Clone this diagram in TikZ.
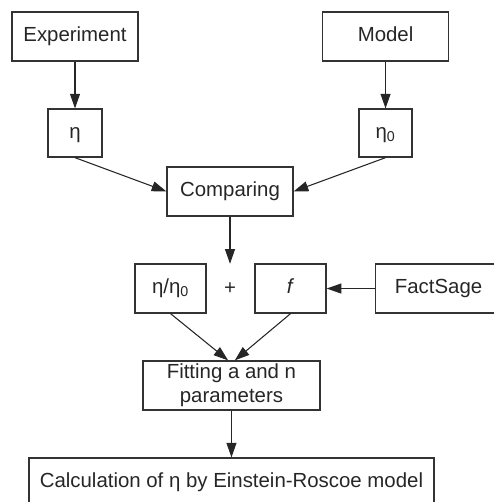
\documentclass[tikz,border=0pt]{standalone}
\usepackage{fontspec}
\setmainfont{Liberation Sans}
\usetikzlibrary{arrows.meta, positioning}

\begin{document}
\begin{tikzpicture}[x=1pt, y=1pt, node distance=72.4pt, >={Triangle[length=11pt,width=7.5pt]},
    box/.style={draw=black!80, line width=0.9pt, text=black!85, inner sep=0pt,
        minimum width=94.5pt, minimum height=36.75pt,
        text height=11pt, text depth=3.5pt,
        font=\fontsize{15.3pt}{18pt}\selectfont},
    small/.style={minimum width=53.25pt},
    link/.style={->, draw=black!85, line width=0.8pt}]

    \useasboundingbox (0,0) rectangle (369.75,-376.5);

    % Nodes
    \node[box] (Exp) at (56.25,-27.4) {Experiment};
    \node[box, minimum width=40.5pt, minimum height=36pt] (eta) [below of=Exp] {η};
    \node[box] (Model) [right of=Exp, node distance=232.9pt] {Model};
    \node[box, minimum width=39.75pt, minimum height=36pt] (eta0) [below of=Model] {η\textsubscript{0}};
    \node[box] (Cmp) at (172.5,-143.6) {Comparing};
    \node[minimum height=36.75pt, text=black!85, font=\fontsize{15.3pt}{18pt}\selectfont] (plus) [below of=Cmp, node distance=72.8pt] {+};
    \node[box, small] (ratio) [left of=plus, node distance=44.6pt] {η/η\textsubscript{0}};
    \node[box, small] (f) [right of=plus, node distance=45.4pt] {\textit{f}};
    \node[box] (FS) [right of=f, node distance=111pt] {FactSage};
    \node[box, minimum width=132.75pt, align=center, text height={}, text depth={}] (Fit) [below of=plus, node distance=72.7pt, xshift=1.1pt] {Fitting a and n\\parameters};
    \node[box, minimum width=303.75pt] (Calc) [below of=Fit, node distance=72.8pt] {Calculation of η by Einstein-Roscoe model};

    % Arrows
    \draw[link] (Exp) -- (eta);
    \draw[link] (Model) -- (eta0);
    \draw[link] (eta.south) -- (Cmp.west);
    \draw[link] (eta0.south) -- (Cmp.east);
    \draw[link] (Cmp) -- (plus);
    \draw[link] (FS) -- (f);
    \draw[link] (ratio.south) -- ([xshift=-2.5pt]Fit.north);
    \draw[link] (f.south) -- ([xshift=2.5pt]Fit.north);
    \draw[link] (Fit) -- (Calc);

\end{tikzpicture}
\end{document}
